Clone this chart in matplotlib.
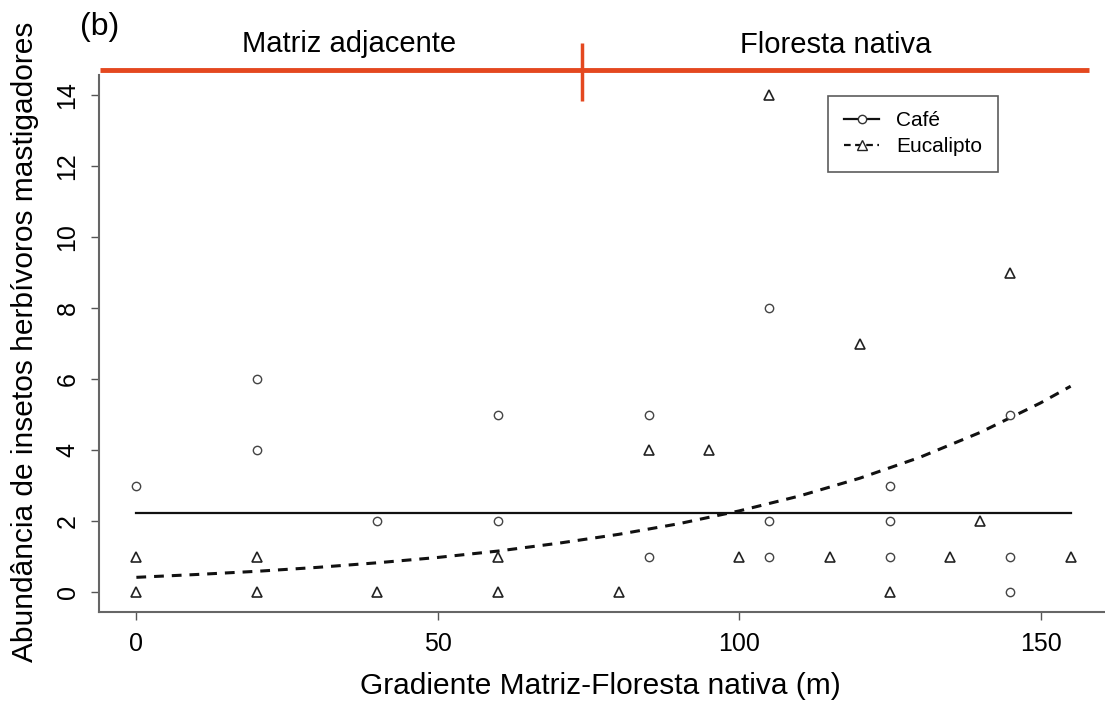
import matplotlib
matplotlib.use('Agg')
import matplotlib.pyplot as plt

plt.rcParams['font.family'] = ['Liberation Sans', 'DejaVu Sans']

# Cafe (circles)
cafe_x = [0, 20, 20, 40, 60, 60, 85, 85, 105, 105, 105, 125, 125, 125, 145, 145, 145]
cafe_y = [3, 6, 4, 2, 5, 2, 5, 1, 8, 2, 1, 3, 2, 1, 5, 1, 0]

# Eucalipto (triangles)
euc_x = [0, 0, 20, 20, 40, 60, 60, 80, 85, 95, 100, 105, 115, 120, 125, 135, 140, 145, 155]
euc_y = [1, 0, 1, 0, 0, 1, 0, 0, 4, 4, 1, 14, 1, 7, 0, 1, 2, 9, 1]

# fitted lines
cafe_fit_x = [0, 155]
cafe_fit_y = [2.23, 2.23]
euc_fit_x = [0, 10, 20, 30, 40, 50, 60, 70, 80, 90, 100, 110, 120, 130, 140, 150, 155]
euc_fit_y = [0.42, 0.50, 0.59, 0.70, 0.83, 0.98, 1.16, 1.38, 1.63, 1.93, 2.29,
             2.71, 3.21, 3.80, 4.50, 5.33, 5.80]

# habitat bar on top
bar_x = [-6, 158]
bar_y = 14.7
split_x = 74
split_y = [13.83, 15.47]

x_ticks = [0, 50, 100, 150]
y_ticks = [0, 2, 4, 6, 8, 10, 12, 14]

fig = plt.figure(figsize=(11.05, 7.02), dpi=100)
ax = fig.add_axes([0.0896, 0.128, 0.9104, 0.765])

ax.plot(cafe_fit_x, cafe_fit_y, color='#111111', lw=1.6)
ax.plot(euc_fit_x, euc_fit_y, color='#111111', lw=2.2, dashes=(3.2, 2.6))

ax.plot(cafe_x, cafe_y, linestyle='none', marker='o', ms=6, mfc='white',
        mec='#444444', mew=1)
ax.plot(euc_x, euc_y, linestyle='none', marker='^', ms=7.5, mfc='white',
        mec='#222222', mew=1.2)

# legend
h1, = ax.plot([], [], color='#111111', lw=1.6, marker='o', ms=6, mfc='white', mec='#333333')
h2, = ax.plot([], [], color='#111111', lw=1.6, dashes=(3, 2), marker='^', ms=7, mfc='white', mec='#222222')
leg = ax.legend([h1, h2], ['Café', 'Eucalipto'], loc='upper left',
                bbox_to_anchor=(0.725, 0.962), fontsize=15, frameon=True,
                fancybox=False, edgecolor='#333333', handlelength=1.7,
                handletextpad=0.8, borderpad=0.75, labelspacing=0.35,
                borderaxespad=0)
leg.get_frame().set_linewidth(1.2)

# habitat bar
ax.plot(bar_x, [bar_y, bar_y], color='#E4481F', lw=3.5, clip_on=False,
        solid_capstyle='butt')
ax.plot([split_x, split_x], split_y, color='#E4481F', lw=2.5, clip_on=False,
        solid_capstyle='butt')
ax.text(35.3, 15.45, 'Matriz adjacente', fontsize=21, ha='center', va='center')
ax.text(116, 15.4, 'Floresta nativa', fontsize=21, ha='center', va='center')
fig.text(0.0905, 0.962, '(b)', fontsize=23, ha='center', va='center')

ax.set_xlim(-6.2, 160.7)
ax.set_ylim(-0.56, 14.56)
ax.set_xticks(x_ticks)
ax.set_yticks(y_ticks)
ax.tick_params(axis='both', length=6, width=1, color='#555555', labelsize=18,
               pad=8)
for lab in ax.get_yticklabels():
    lab.set_rotation(90)
    lab.set_va('center')

ax.spines['top'].set_visible(False)
ax.spines['right'].set_visible(False)
for s in ['left', 'bottom']:
    ax.spines[s].set_color('#666666')
    ax.spines[s].set_linewidth(1.5)

ax.set_xlabel('Gradiente Matriz-Floresta nativa (m)', fontsize=21.5, va='center')
ax.set_ylabel('Abundância de insetos herbívoros mastigadores', fontsize=21.5,
              va='center', ha='center')
ax.xaxis.set_label_coords(0.498, -0.138)
ax.yaxis.set_label_coords(-0.0736, 0.503)

fig.savefig('out.png', dpi=100)
